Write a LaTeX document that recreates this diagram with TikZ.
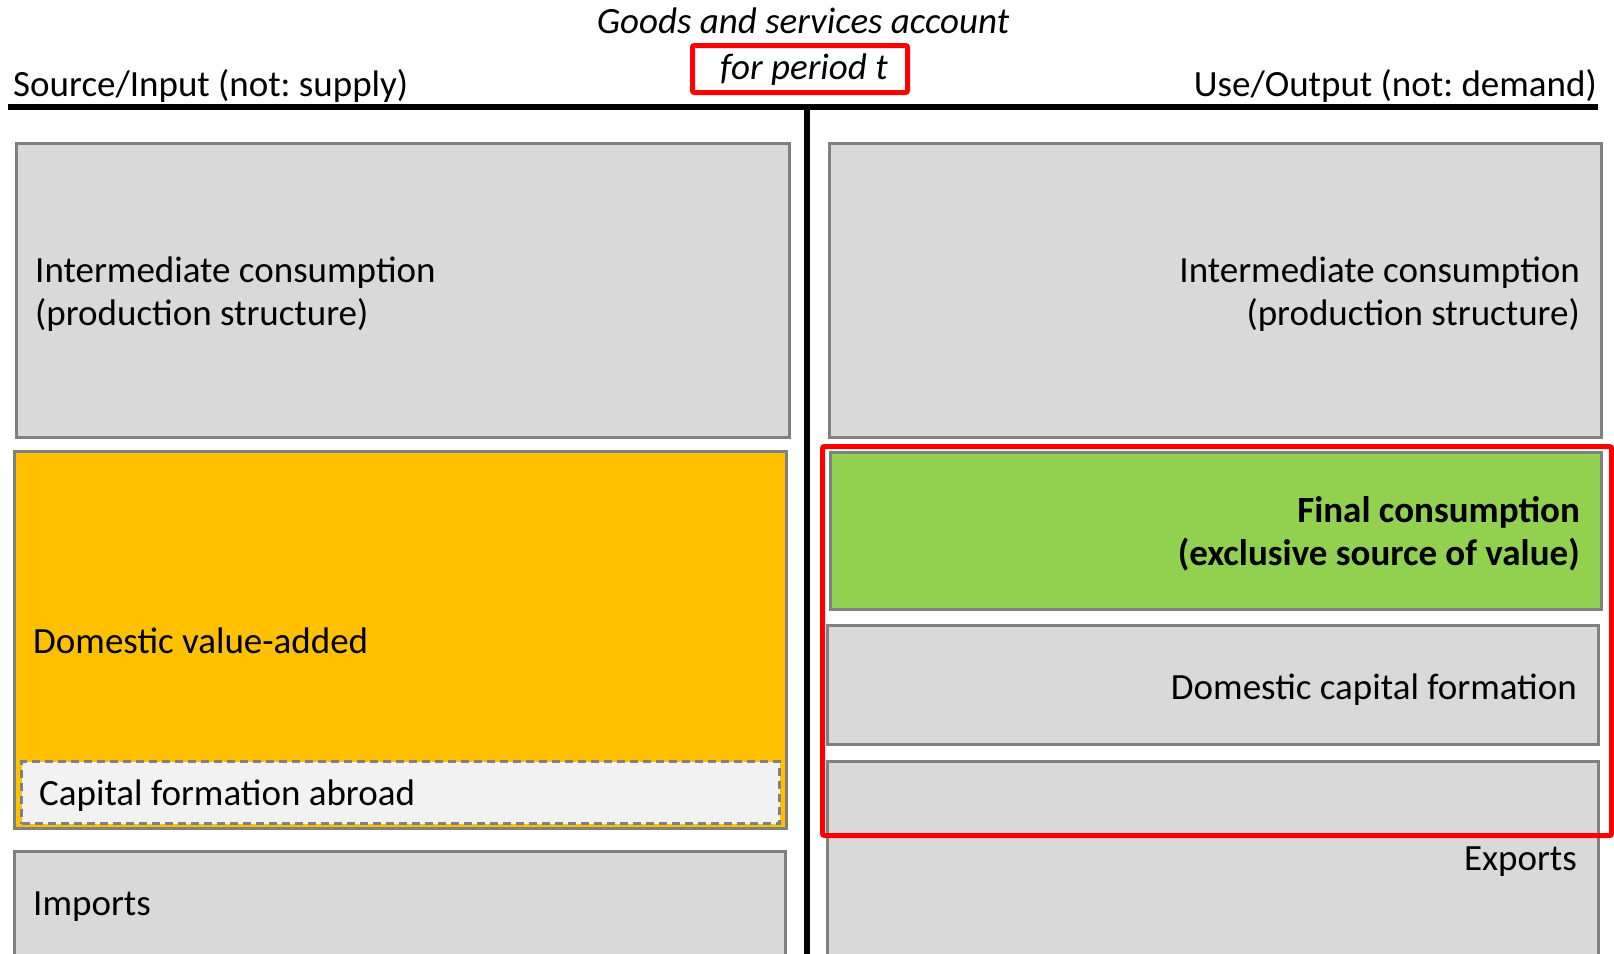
\documentclass[tikz,border=0pt]{standalone}
\usepackage{fontspec}
\setmainfont{Carlito}
\frenchspacing
\definecolor{boxgray}{HTML}{D9D9D9}
\definecolor{edgegray}{HTML}{808080}
\definecolor{lightgray2}{HTML}{F2F2F2}
\definecolor{orangefill}{HTML}{FFC000}
\definecolor{greenfill}{HTML}{92D050}
\definecolor{redline}{HTML}{FF0000}
\tikzset{
  blk/.style={draw=edgegray, line width=3pt, inner sep=0pt, anchor=north west},
  grayblk/.style={blk, fill=boxgray},
  lbl/.style={inner sep=0pt, font=\fontsize{37}{43}\selectfont},
  redframe/.style={draw=redline, line width=5pt, rounded corners=2pt, inner sep=0pt, anchor=north west},
  rule/.style={line width=6pt, black}
}
\begin{document}
\begin{tikzpicture}[x=1pt, y=-1pt]
\useasboundingbox (0,0) rectangle (1614,953);
\clip (0,0) rectangle (1614,953);
\fill[white] (0,0) rectangle (1614,953);

% header
\node[lbl, anchor=base] (title) at (803,33) {\itshape Goods and services account};
\node[redframe, minimum width=215pt, minimum height=47pt] (pbox) at (690,43) {};
\node[lbl, anchor=base west] (period) at (720,79) {\itshape for period t};
\node[lbl, anchor=base west] (src) at (13,96) {Source/Input (not: supply)};
\node[lbl, anchor=base east] (use) at (1597,96) {Use/Output (not: demand)};

\coordinate (hl) at (8,107);
\coordinate (hr) at (1598,107);
\coordinate (vt) at (807,107);
\coordinate (vb) at (807,960);
\draw[rule] (hl) -- (hr);
\draw[rule, line width=5.5pt] (vt) -- (vb);

% left column
\node[grayblk, minimum width=773pt, minimum height=294pt] (ltop) at (15,142) {};
\node[lbl, anchor=west, align=left] (ltoptxt) at (35,294) {Intermediate consumption\\(production structure)};

\node[blk, fill=orangefill, minimum width=772pt, minimum height=377pt] (dva) at (13,450) {};
\node[lbl, anchor=west] (dvatxt) at (33,641) {Domestic value-added};

\node[blk, draw=edgegray, dashed, dash pattern=on 8pt off 5pt, fill=lightgray2, minimum width=758pt, minimum height=62pt] (cfa) at (20,760) {};
\node[lbl, anchor=west] (cfatxt) at (39,796) {Capital formation abroad};

\node[grayblk, minimum width=771pt, minimum height=150pt] (imp) at (13,850) {};
\node[lbl, anchor=west] (imptxt) at (33,907) {Imports};

% right column
\node[grayblk, minimum width=772pt, minimum height=294pt] (rtop) at (828,142) {};
\node[lbl, anchor=east, align=right] (rtoptxt) at (1580,294) {Intermediate consumption\\(production structure)};

\node[blk, fill=greenfill, minimum width=771pt, minimum height=157pt] (fc) at (829,451) {};
\node[lbl, anchor=east, align=right, font=\fontsize{37}{43}\selectfont\bfseries] (fctxt) at (1580,534) {Final consumption\\(exclusive source of value)};

\node[grayblk, minimum width=771pt, minimum height=119pt] (dcf) at (826,624) {};
\node[lbl, anchor=east] (dcftxt) at (1577,690) {Domestic capital formation};

\node[grayblk, minimum width=771pt, minimum height=250pt] (exp) at (826,760) {};
\node[lbl, anchor=east] (exptxt) at (1577,862) {Exports};

\node[redframe, minimum width=789pt, minimum height=389pt] (final) at (820,444) {};
\end{tikzpicture}
\end{document}
